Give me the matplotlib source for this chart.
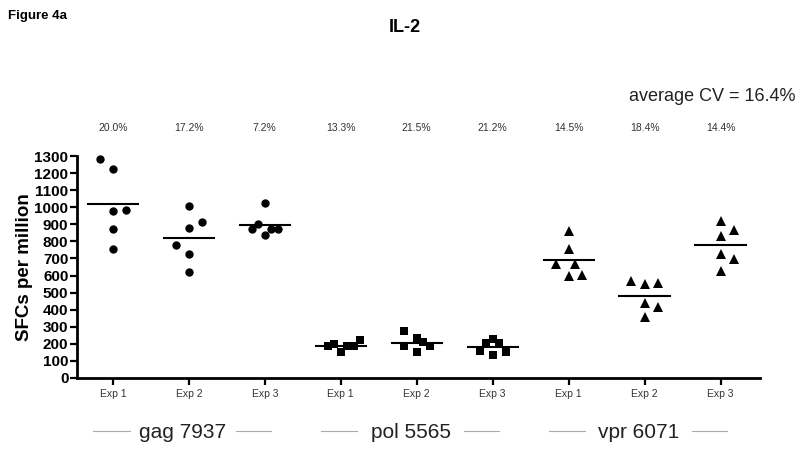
import matplotlib
matplotlib.use("Agg")
import matplotlib.pyplot as plt
import matplotlib.transforms as mtransforms
import numpy as np

plt.rcParams['font.family'] = ['Liberation Sans', 'DejaVu Sans']

# ---- data ----
exp_labels = ["Exp 1", "Exp 2", "Exp 3"]
antigens = ["gag 7937", "pol 5565", "vpr 6071"]
cv_labels = ["20.0%", "17.2%", "7.2%", "13.3%", "21.5%", "21.2%", "14.5%", "18.4%", "14.4%"]
average_cv = "average CV = 16.4%"

gag_exp1 = [1280, 1225, 980, 985, 875, 755]
gag_exp2 = [1010, 915, 880, 780, 725, 620]
gag_exp3 = [1025, 900, 875, 875, 875, 840]
pol_exp1 = [185, 200, 150, 185, 190, 220]
pol_exp2 = [275, 190, 235, 210, 185, 150]
pol_exp3 = [230, 205, 205, 155, 135, 150]
vpr_exp1 = [862, 755, 667, 667, 595, 601]
vpr_exp2 = [566, 548, 556, 437, 414, 359]
vpr_exp3 = [921, 867, 833, 726, 695, 625]

series = [gag_exp1, gag_exp2, gag_exp3,
          pol_exp1, pol_exp2, pol_exp3,
          vpr_exp1, vpr_exp2, vpr_exp3]

# horizontal scatter (in marker steps) to keep overlapping points visible
spread = [
    [-1, 0, 0, 1, 0, 0],
    [0, 1, 0, -1, 0, 0],
    [0, -0.5, -1, 0.5, 1, 0],
    [-1, -0.5, 0, 0.5, 1, 1.5],
    [-1, -1, 0, 0.5, 1, 0],
    [0, -0.5, 0.5, -1, 0, 1],
    [0, 0, -1, 0.5, 0, 1],
    [-1, 0, 1, 0, 1, 0],
    [0, 1, 0, 0, 1, 0],
]
markers = ['o'] * 3 + ['s'] * 3 + ['^'] * 3
msizes = [6] * 3 + [5.5] * 3 + [6.5] * 3

fig = plt.figure(figsize=(8, 4.51), dpi=100)
ax = fig.add_axes([0.096, 0.162, 0.854, 0.492])

step = 0.172
for i, vals in enumerate(series):
    xs = i + step * np.array(spread[i])
    ax.plot(xs, vals, linestyle='none', marker=markers[i], ms=msizes[i],
            color='black', markeredgewidth=0, clip_on=False)
    m = np.mean(vals)
    ax.plot([i - 0.33, i + 0.33], [m, m], color='black', lw=1.5)

ax.set_xlim(-0.475, 8.52)
ax.set_ylim(0, 1300)
ax.set_yticks(np.arange(0, 1301, 100))
ax.set_yticklabels([str(v) for v in range(0, 1301, 100)], fontweight='bold', fontsize=11)
ax.set_xticks(range(9))
ax.set_xticklabels(exp_labels * 3, fontsize=7.5, color='#333333')
for s in ['top', 'right']:
    ax.spines[s].set_visible(False)
for s in ['left', 'bottom']:
    ax.spines[s].set_linewidth(2)
ax.tick_params(axis='y', length=5, width=1.6, pad=1)
ax.tick_params(axis='x', length=5, width=1.6, pad=3)
ax.set_ylabel("SFCs per million", fontweight='bold', fontsize=13.5, labelpad=1)

# CV labels above each column
trans = mtransforms.blended_transform_factory(ax.transData, ax.transAxes)
for i, lab in enumerate(cv_labels):
    ax.text(i, 1.126, lab, transform=trans, ha='center', va='center', fontsize=7.5, color='#333333')

fig.text(0.994, 0.785, average_cv, ha='right', va='center', fontsize=13, color='#222222')
fig.text(0.01, 0.965, "Figure 4a", ha='left', va='center', fontsize=9.5, fontweight='bold')
fig.text(0.506, 0.938, "IL-2", ha='center', va='center', fontsize=13, fontweight='bold')

# group labels with flanking lines
for g, name in enumerate(antigens):
    c = 3 * g + 1 - 0.08
    ax.text(c, -0.248, name, transform=trans, ha='center', va='center', fontsize=15, color='#222222')
    for a, b in [(-1.18, -0.7), (0.7, 1.16)]:
        ax.plot([c + a, c + b], [-0.239, -0.239], transform=trans, color='#aaaaaa', lw=0.8, clip_on=False)

fig.savefig("out.png", dpi=100, facecolor='white')
